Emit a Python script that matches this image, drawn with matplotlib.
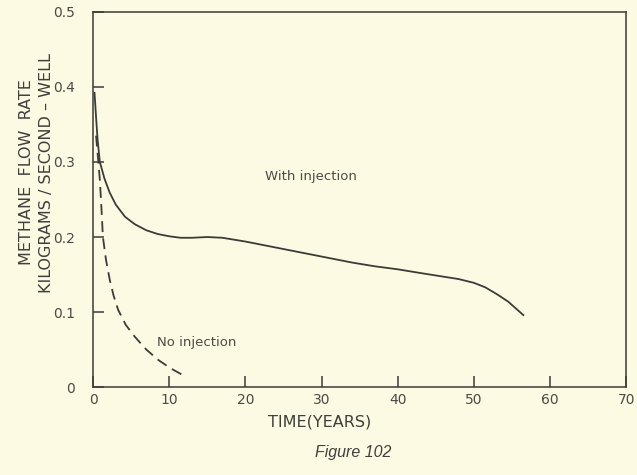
import matplotlib.pyplot as plt

# methane flow rate (kg / s per well) against time in years
years_injection = [0.2, 0.4, 0.6, 0.9, 1.5, 2.2, 3.0, 4.2, 5.5, 7.0, 8.5, 10.0,
                   11.5, 13.0, 15.0, 17.0, 20.0, 22.5, 25.0, 28.0, 31.0, 34.0,
                   37.0, 40.0, 43.0, 45.5, 48.0, 50.0, 51.5, 53.0, 54.5, 55.5, 56.5]
rate_injection = [0.392, 0.36, 0.33, 0.30, 0.278, 0.259, 0.243, 0.227, 0.217,
                  0.209, 0.204, 0.201, 0.199, 0.199, 0.200, 0.199, 0.194, 0.189,
                  0.184, 0.178, 0.172, 0.166, 0.161, 0.157, 0.152, 0.148, 0.144,
                  0.139, 0.133, 0.124, 0.114, 0.105, 0.096]

years_no_injection = [0.4, 0.7, 0.9, 1.1, 1.3, 1.7, 2.2, 2.7, 3.3, 4.3, 5.5,
                      7.0, 8.6, 10.2, 11.8]
rate_no_injection = [0.335, 0.30, 0.276, 0.24, 0.20, 0.17, 0.143, 0.122, 0.103,
                     0.083, 0.067, 0.050, 0.036, 0.025, 0.016]

x_ticks = [0, 10, 20, 30, 40, 50, 60, 70]
y_ticks = [0, 0.1, 0.2, 0.3, 0.4, 0.5]
y_tick_labels = ["0", "0.1", "0.2", "0.3", "0.4", "0.5"]

paper = "#fdfae3"
ink = "#3b3b38"

fig = plt.figure(figsize=(6.37, 4.75), dpi=100, facecolor=paper)
ax = fig.add_axes([0.146, 0.185, 0.837, 0.79], facecolor=paper)

ax.plot(years_injection, rate_injection, color=ink, lw=1.3,
        solid_joinstyle="round")
ax.plot(years_no_injection, rate_no_injection, color=ink, lw=1.3,
        linestyle=(0, (6, 3.5)))

ax.set_xlim(0, 70)
ax.set_ylim(0, 0.5)
ax.set_xticks(x_ticks)
ax.set_yticks(y_ticks)
ax.set_yticklabels(y_tick_labels)

ax.tick_params(direction="in", length=8, width=1.1, color=ink,
               labelcolor="#4a4a46", labelsize=10, pad=4)
ax.tick_params(axis="y", pad=13)
for side in ax.spines.values():
    side.set_color(ink)
    side.set_linewidth(1.1)

ax.text(22.6, 0.28, "With injection", fontsize=9.5, color="#4a4a46",
        va="center", ha="left")
ax.text(8.4, 0.06, "No injection", fontsize=9.5, color="#4a4a46",
        va="center", ha="left")

fig.text(320 / 637, 1 - 422 / 475, "TIME(YEARS)", fontsize=11.5, color="#3f3f3c",
         ha="center", va="center")
fig.text(27 / 637, 1 - 172 / 475, "METHANE  FLOW  RATE", fontsize=11.5,
         color="#3f3f3c", rotation=90, ha="center", va="center")
fig.text(47 / 637, 1 - 173 / 475, "KILOGRAMS / SECOND \u2013 WELL", fontsize=11.5,
         color="#3f3f3c", rotation=90, ha="center", va="center")
fig.text(353 / 637, 1 - 453 / 475, "Figure 102", fontsize=11.5,
         family="Liberation Sans", style="italic", color="#3f3f3c",
         ha="center", va="center")

fig.savefig("out.png", dpi=100, facecolor=paper)
